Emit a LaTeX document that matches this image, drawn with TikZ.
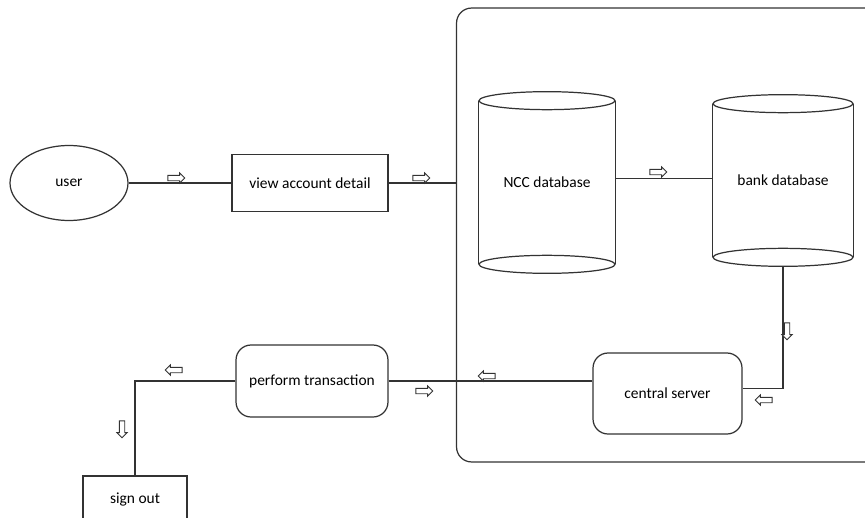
\documentclass[tikz,border=0pt]{standalone}
\usepackage{fontspec}
\setmainfont{Carlito}
\usetikzlibrary{shapes.geometric,shapes.arrows,positioning}
\tikzset{flowline/.style={draw=black!80, line width=0.7pt},
    procbox/.style={flowline, rectangle, minimum width=3.12cm, minimum height=1.14cm},
    roundbox/.style={flowline, rectangle, rounded corners=0.3cm},
    dbbody/.style={rectangle, inner sep=0pt},
    flowmark/.style={single arrow, draw=black!80, line width=0.5pt, fill=white,
        minimum height=0.34cm, inner sep=0.045cm, single arrow head extend=0.05cm}}

\begin{document}
\begin{tikzpicture}[x=0.02cm, y=-0.02cm, font=\fontsize{8.8}{10}\selectfont]
\useasboundingbox (0,0) rectangle (865,517);
\clip (0,0) rectangle (865,517);

% left part
\node[flowline, ellipse, minimum width=2.36cm, minimum height=1.5cm] (user) at (69,183) {user};
\node[procbox] (view) at (310,183) {view account detail};
\node[roundbox, minimum width=3.04cm, minimum height=1.44cm] (perf) at (312,381) {perform transaction};
\node[flowline, rectangle, minimum width=2.08cm, minimum height=0.96cm] (sign) at (135,500) {sign out};

% system
\node[roundbox, minimum width=8.5cm, minimum height=9.08cm] (sysbox) at (669,235) {};
\node[dbbody, minimum width=2.72cm, minimum height=3.26cm] (ncc) at (547,182.5) {NCC database};
\node[dbbody, minimum width=2.8cm, minimum height=3.06cm] (bank) at (783,180.5) {bank database};
\node[roundbox, minimum width=2.98cm, minimum height=1.62cm] (srv) at (667.5,393.5) {central server};

\draw[flowline] (ncc.north west) -- (ncc.south west) (ncc.north east) -- (ncc.south east);
\draw[flowline] (ncc.north) ellipse [x radius=1.36cm, y radius=0.18cm];
\draw[flowline] (ncc.south) ellipse [x radius=1.36cm, y radius=0.18cm];
\draw[flowline] (bank.north west) -- (bank.south west) (bank.north east) -- (bank.south east);
\draw[flowline] (bank.north) ellipse [x radius=1.4cm, y radius=0.18cm];
\draw[flowline] (bank.south) ellipse [x radius=1.4cm, y radius=0.18cm];

% connectors
\draw[flowline] (user.east) -- (view.west);
\draw[flowline] (view.east) -- (view.east -| sysbox.west);
\draw[flowline] ([yshift=0.08cm]ncc.east) -- ([yshift=0.08cm]ncc.east -| bank.west);
\draw[flowline] ([yshift=-0.18cm]bank.south) |- ([yshift=0.1cm]srv.east);
\draw[flowline] (perf.east) -- (perf.east -| srv.west);
\draw[flowline] (perf.west) -| (sign.north);

% direction marks
\node[flowmark] (m1) at (175,178) {};
\node[flowmark] (m2) at (420,178) {};
\node[flowmark] (m3) at (657,172) {};
\node[flowmark, rotate=270] (m4) at (787,330) {};
\node[flowmark, rotate=180] (m5) at (765,400) {};
\node[flowmark, rotate=180] (m6) at (488,376) {};
\node[flowmark] (m7) at (423,391) {};
\node[flowmark, rotate=180] (m8) at (175,370) {};
\node[flowmark, rotate=270] (m9) at (122,428) {};
\end{tikzpicture}
\end{document}
